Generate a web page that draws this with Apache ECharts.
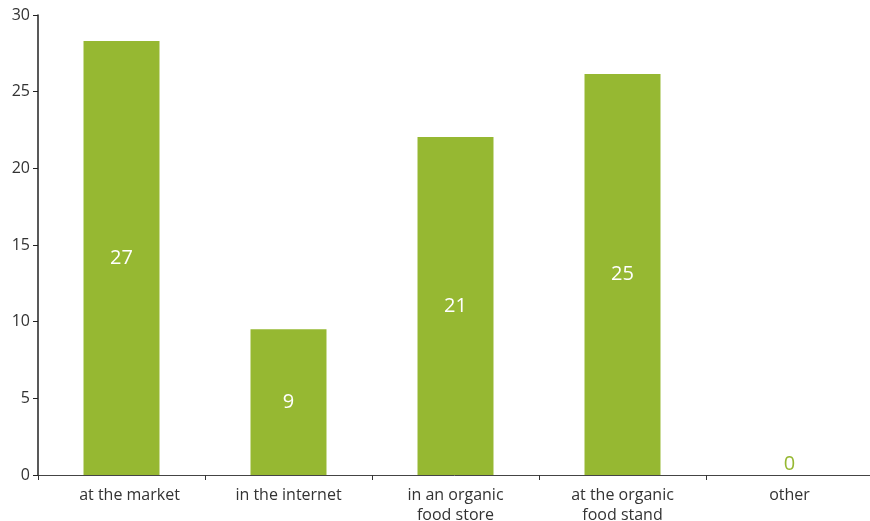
<!DOCTYPE html>
<html>
<head>
<meta charset="utf-8">
<script src="https://cdn.jsdelivr.net/npm/echarts@6/dist/echarts.min.js"></script>
<style>html,body{margin:0;padding:0;background:#fff}#c{width:870px;height:521px}</style>
</head>
<body>
<div id="c"></div>
<script>
var categories = ['at the market', 'in the internet', 'in an organic\nfood store', 'at the organic\nfood stand', 'other'];
var barValues = [28.3, 9.5, 22.05, 26.15, 0];
var labelTexts = ['27', '9', '21', '25', '0'];
var yTicks = [0, 5, 10, 15, 20, 25, 30];

var green = '#96b832';
var font = '"Open Sans", Lato, sans-serif';
var chart = echarts.init(document.getElementById('c'));
var data = barValues.map(function (v, i) {
  var item = { value: v };
  if (v === 0) {
    item.label = { position: 'top', color: green, distance: 1 };
  }
  return item;
});
var xLabelStyle = { color: '#333', fontFamily: font, fontSize: 16, lineHeight: 20 };
chart.setOption({
  animation: false,
  grid: { left: 38, right: -3, top: 15, bottom: 46, containLabel: false, outerBoundsMode: 'none' },
  xAxis: {
    type: 'category',
    data: categories,
    axisLine: { lineStyle: { color: '#444', width: 1 } },
    axisTick: { show: true, interval: 0, alignWithLabel: false, length: 5, inside: false, lineStyle: { color: '#333' } },
    axisLabel: {
      interval: 0, hideOverlap: false,
      color: '#333', fontFamily: font, fontSize: 16, margin: 10, lineHeight: 20,
      formatter: function (v, i) { return i === 0 ? '{first|' + v + '}' : v; },
      rich: { first: Object.assign({ padding: [0, 0, 0, 16] }, xLabelStyle) }
    }
  },
  yAxis: {
    type: 'value',
    min: yTicks[0],
    max: yTicks[yTicks.length - 1],
    interval: 5,
    splitLine: { show: false },
    axisLine: { show: true, lineStyle: { color: '#222', width: 1.5 } },
    axisTick: { show: true, length: 5, lineStyle: { color: '#222' } },
    axisLabel: { color: '#333', fontFamily: font, fontSize: 16, margin: 8 }
  },
  series: [{
    type: 'bar',
    data: data,
    barWidth: '45.5%',
    itemStyle: { color: green },
    label: {
      show: true,
      position: 'inside',
      color: '#fff',
      fontSize: 20,
      fontFamily: font,
      formatter: function (p) { return labelTexts[p.dataIndex]; }
    }
  }]
});
</script>
</body>
</html>
